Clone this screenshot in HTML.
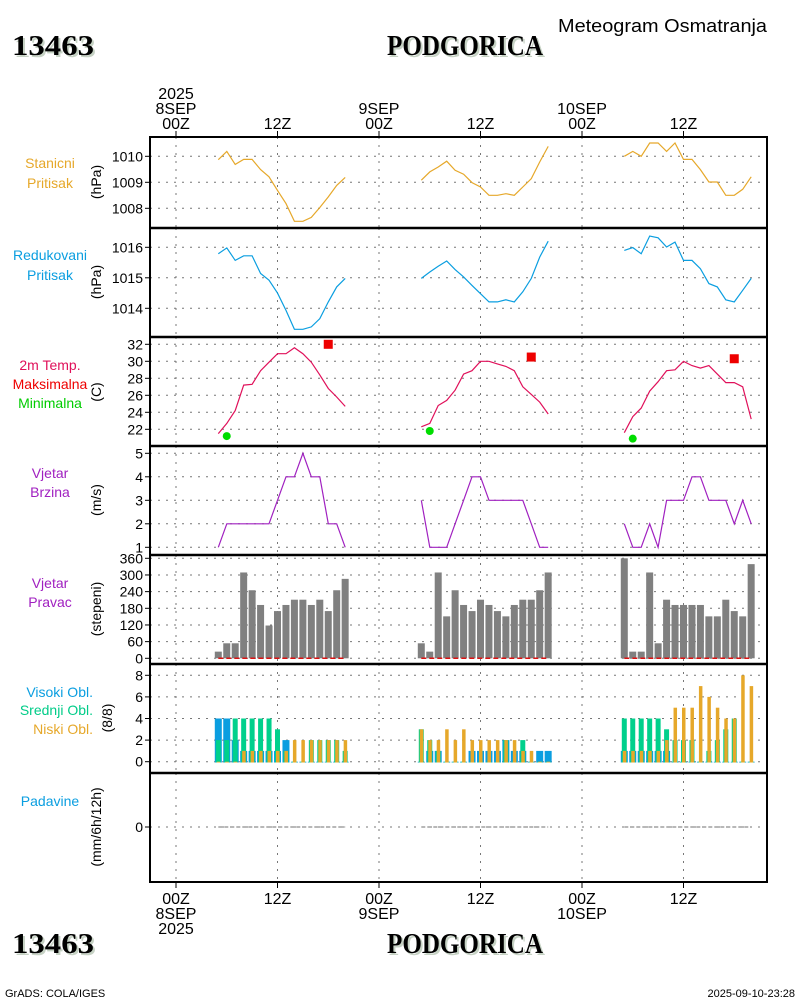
<!DOCTYPE html>
<html><head><meta charset="utf-8">
<style>
html,body{margin:0;padding:0;background:#fff;}
svg{display:block;font-family:"Liberation Sans",sans-serif;}
</style></head>
<body>
<svg id="chart" width="800" height="1000" viewBox="0 0 800 1000">
 <rect x="0" y="0" width="800" height="1000" fill="#fff"/>
 <g font-family="Liberation Serif, serif" font-weight="bold" font-size="29">
  <text x="14" y="57" fill="#c6d2c4" textLength="82" lengthAdjust="spacingAndGlyphs">13463</text><text x="12" y="55" fill="#000" textLength="82" lengthAdjust="spacingAndGlyphs">13463</text>
  <text x="389" y="57" fill="#c6d2c4" textLength="156" lengthAdjust="spacingAndGlyphs">PODGORICA</text><text x="387" y="55" fill="#000" textLength="156" lengthAdjust="spacingAndGlyphs">PODGORICA</text>
  <text x="14" y="955" fill="#c6d2c4" textLength="82" lengthAdjust="spacingAndGlyphs">13463</text><text x="12" y="953" fill="#000" textLength="82" lengthAdjust="spacingAndGlyphs">13463</text>
  <text x="389" y="955" fill="#c6d2c4" textLength="156" lengthAdjust="spacingAndGlyphs">PODGORICA</text><text x="387" y="953" fill="#000" textLength="156" lengthAdjust="spacingAndGlyphs">PODGORICA</text>
 </g>
 <text x="558" y="32" font-size="18" fill="#000" textLength="209" lengthAdjust="spacingAndGlyphs">Meteogram Osmatranja</text>
 <text x="5" y="997" font-size="11" fill="#000">GrADS: COLA/IGES</text>
 <text x="795" y="997" font-size="11" fill="#000" text-anchor="end">2025-09-10-23:28</text>
 <g id="grid"></g>
 <g id="marks"></g>
 <g id="frame"></g>
 <g id="labels"></g>
</svg>
<script>
// ---- data ----
const hours = [5,6,7,8,9,10,11,12,13,14,15,16,17,18,19,20];
const days = [0,1,2];
const stationP = [
 [1009.87,1010.19,1009.69,1009.88,1009.88,1009.49,1009.21,1008.69,1008.18,1007.5,1007.5,1007.65,1008.03,1008.44,1008.88,1009.19],
 [1009.08,1009.4,1009.59,1009.81,1009.46,1009.31,1008.99,1008.82,1008.5,1008.5,1008.56,1008.5,1008.82,1009.14,1009.78,1010.38],
 [1010.0,1010.19,1010.0,1010.51,1010.51,1010.19,1010.51,1009.88,1009.88,1009.49,1009.01,1009.01,1008.5,1008.5,1008.73,1009.21]];
const reducedP = [
 [1015.79,1015.98,1015.57,1015.72,1015.72,1015.14,1014.92,1014.5,1013.93,1013.31,1013.31,1013.39,1013.66,1014.21,1014.7,1014.98],
 [1014.98,1015.19,1015.38,1015.55,1015.27,1015.03,1014.75,1014.48,1014.21,1014.21,1014.28,1014.21,1014.54,1014.98,1015.68,1016.2],
 [1015.9,1015.99,1015.79,1016.37,1016.31,1016.01,1016.17,1015.57,1015.57,1015.3,1014.81,1014.7,1014.28,1014.21,1014.59,1014.98]];
const temp = [
 [21.5,22.7,24.2,27.2,27.3,28.9,29.9,30.9,30.9,31.6,30.9,29.9,28.4,26.8,25.8,24.7],
 [22.3,22.7,24.8,25.4,26.6,28.5,28.9,30.0,30.0,29.7,29.4,28.9,27.0,26.1,25.2,23.8],
 [21.6,23.5,24.5,26.5,27.6,28.9,29.0,30.0,29.5,29.2,29.5,28.5,27.5,27.5,27.0,23.2]];
const tMax = [32.0,30.5,30.3];
const tMaxHour = [18,18,18];
const tMin = [21.2,21.8,20.9];
const tMinHour = [6,6,6];
const windSpeed = [
 [1,2,2,2,2,2,2,3,4,4,5,4,4,2,2,1],
 [3,1,1,1,2,3,4,4,3,3,3,3,3,2,1,1],
 [2,1,1,2,1,3,3,3,4,4,3,3,3,2,3,2]];
const windDir = [
 [24,54,54,309,245,192,118,170,192,211,211,192,211,170,245,286],
 [54,24,309,151,245,192,170,211,192,170,151,192,211,211,245,309],
 [360,24,24,309,54,211,192,192,192,192,151,151,211,170,151,339]];
const cloudHigh = [
 [4,4,2,1,1,1,1,1,2,0,0,0,0,0,0,0],
 [0,1,1,0,0,0,1,1,1,1,2,1,1,0,1,1],
 [1,1,1,1,1,1,0,0,0,0,0,0,0,0,0,0]];
const cloudMid = [
 [2,2,4,4,4,4,4,3,1,0,0,2,2,2,2,1],
 [3,2,1,0,0,0,0,0,0,0,2,0,2,0,0,0],
 [4,4,4,4,4,3,2,2,2,0,1,2,3,4,0,0]];
const cloudLow = [
 [0,0,0,1,1,1,1,1,1,2,2,2,2,2,2,2],
 [3,2,2,3,2,3,2,2,2,2,2,2,1,1,0,0],
 [1,1,1,1,1,2,5,5,5,7,6,5,4,4,8,7]];
const precip = [
 [0,0,0,0,0,0,0,0,0,0,0,0,0,0,0,0],
 [0,0,0,0,0,0,0,0,0,0,0,0,0,0,0,0],
 [0,0,0,0,0,0,0,0,0,0,0,0,0,0,0,0]];
const stationTicks = [1008,1009,1010];
const reducedTicks = [1014,1015,1016];
const tempTicks = [22,24,26,28,30,32];
const speedTicks = [1,2,3,4,5];
const dirTicks = [0,60,120,180,240,300,360];
const cloudTicks = [0,2,4,6,8];
const precipTicks = [0];
const timeTicks = [0,12,24,36,48,60];

// ---- axes ----
const NS = 'http://www.w3.org/2000/svg';
const X0 = 176, PXH = 101.5/12;
const xT = (d,h) => X0 + (d*24+h)*PXH;
const yStation = v => 156.3 + (1010 - v)*26;
const yReduced = v => 247.3 + (1016 - v)*30.5;
const yTemp = v => 429.3 - (v - 22)*8.5;
const ySpeed = v => 547.3 - (v - 1)*23.5;
const yDir = v => 658.3 - v*100/360;
const yCloud = v => 761.7 - v*10.8;
const yPrecip = v => 827 - v*20;

function mk(tag, attrs, parent){
  const e = document.createElementNS(NS, tag);
  for (const k in attrs) e.setAttribute(k, attrs[k]);
  parent.appendChild(e); return e;
}
const grid = document.getElementById('grid');
const marks = document.getElementById('marks');
const frame = document.getElementById('frame');
const labels = document.getElementById('labels');
const L = 150, R = 767;
const panels = [
 {top:137,bot:228,ticks:stationTicks,f:yStation,name:'station-pressure'},
 {top:228,bot:337,ticks:reducedTicks,f:yReduced,name:'reduced-pressure'},
 {top:337,bot:446,ticks:tempTicks,f:yTemp,name:'temperature'},
 {top:446,bot:555,ticks:speedTicks,f:ySpeed,name:'wind-speed'},
 {top:555,bot:664,ticks:dirTicks,f:yDir,name:'wind-direction'},
 {top:664,bot:773,ticks:cloudTicks,f:yCloud,name:'cloud-cover'},
 {top:773,bot:882,ticks:precipTicks,f:yPrecip,name:'precipitation'}];
panels.forEach(p=>{
  p.ticks.forEach(t=>{
    const y = p.f(t);
    const gl = mk('line',{x1:L,x2:R,y1:y,y2:y,stroke:'#777','stroke-width':1,'stroke-dasharray':'2,6'},grid);
    
    
    mk('line',{x1:L-5,x2:L,y1:y,y2:y,stroke:'#000'},frame);
    const tx = mk('text',{x:L-7,y:y+5,'font-size':14,'text-anchor':'end',fill:'#000'},labels);
    tx.textContent = t;
    
    
  });
  timeTicks.forEach(h=>{
    const x = X0 + h*PXH;
    mk('line',{x1:x,x2:x,y1:p.top,y2:p.bot,stroke:'#777','stroke-dasharray':'2,6'},grid);
  });
});
const fr = mk('rect',{x:L,y:137,width:R-L,height:882-137,fill:'none',stroke:'#000','stroke-width':2},frame);


[228,337,446,555,664,773].forEach(y=>mk('line',{x1:L,x2:R,y1:y,y2:y,stroke:'#000','stroke-width':2.5},frame));
timeTicks.forEach(h=>{
  const x = X0 + h*PXH;
  mk('line',{x1:x,x2:x,y1:131,y2:137,stroke:'#000'},frame);
  mk('line',{x1:x,x2:x,y1:882,y2:888,stroke:'#000'},frame);
});
const topLab = [['2025','8SEP','00Z'],['12Z'],['9SEP','00Z'],['12Z'],['10SEP','00Z'],['12Z']];
const botLab = [['00Z','8SEP','2025'],['12Z'],['00Z','9SEP'],['12Z'],['00Z','10SEP'],['12Z']];
timeTicks.forEach((h,i)=>{
  const x = X0 + h*PXH;
  const tl = topLab[i];
  tl.forEach((s,j)=>{
    const t = mk('text',{x:x,y:129-(tl.length-1-j)*15,'font-size':16,'text-anchor':'middle',fill:'#000'},labels);
    t.textContent = s;
    
    
  });
  botLab[i].forEach((s,j)=>{
    const t = mk('text',{x:x,y:904+j*15,'font-size':16,'text-anchor':'middle',fill:'#000'},labels);
    t.textContent = s;
    
    
  });
});
const leftLabels = [
 {y:[168,188],t:['Stanicni','Pritisak'],c:['#e6a82a','#e6a82a'],ax:'(hPa)',ay:182},
 {y:[260,280],t:['Redukovani','Pritisak'],c:['#0a9ee0','#0a9ee0'],ax:'(hPa)',ay:282},
 {y:[370,389,408],t:['2m Temp.','Maksimalna','Minimalna'],c:['#e0105a','#ee0000','#00cc00'],ax:'(C)',ay:392},
 {y:[478,497],t:['Vjetar','Brzina'],c:['#a020c0','#a020c0'],ax:'(m/s)',ay:500},
 {y:[588,607],t:['Vjetar','Pravac'],c:['#a020c0','#a020c0'],ax:'(stepeni)',ay:609},
 {y:[697,715,734],t:['Visoki Obl.','Srednji Obl.','Niski Obl.'],c:['#0a9ee0','#00cc88','#e6a82a'],ax:'(8/8)',ay:718,right:true},
 {y:[806],t:['Padavine'],c:['#0a9ee0'],ax:'(mm/6h/12h)',ay:827}];
leftLabels.forEach(l=>{
  l.t.forEach((s,j)=>{
    const t = mk('text',{x:l.right?93:50,y:l.y[j],'font-size':14,'text-anchor':l.right?'end':'middle',fill:l.c[j]},labels);
    t.textContent = s;
    
    
  });
  const a = mk('text',{x:0,y:0,'font-size':14,'text-anchor':'middle',fill:'#000',transform:`translate(${l.right?112:101},${l.ay}) rotate(-90)`},labels);
  a.textContent = l.ax;
  
  
});

function line(arr, f, color, name){
  days.forEach(d=>{
    const pts = hours.map((h,i)=>xT(d,h).toFixed(1)+','+f(arr[d][i]).toFixed(1)).join(' ');
    const pl = mk('polyline',{points:pts,fill:'none',stroke:color,'stroke-width':1.2},marks);
    
    
  });
}
line(stationP, yStation, '#e6a82a', 'station-pressure-line');
line(reducedP, yReduced, '#0a9ee0', 'reduced-pressure-line');
line(temp, yTemp, '#e0105a', 'temperature-line');
line(windSpeed, ySpeed, '#a020c0', 'wind-speed-line');
days.forEach(d=>{
  const mx = mk('rect',{x:xT(d,tMaxHour[d])-4.5,y:yTemp(tMax[d])-4.5,width:9,height:9,fill:'#ee0000'},marks);
  
  
  const mn = mk('circle',{cx:xT(d,tMinHour[d]),cy:yTemp(tMin[d]),r:4,fill:'#00dd00'},marks);
  
  
  hours.forEach((h,i)=>{
    const x = xT(d,h), y = yDir(windDir[d][i]);
    const b = mk('rect',{x:x-3.5,y:y,width:7,height:yDir(0)-y,fill:'#808080'},marks);
    
    
  });
  const rl = mk('line',{x1:xT(d,hours[0]),x2:xT(d,hours[15]),y1:yDir(0),y2:yDir(0),stroke:'#dd1111','stroke-width':1.5,'stroke-dasharray':'5,3'},marks);
  
  
  hours.forEach((h,i)=>{
    const x = xT(d,h), y0 = yCloud(0);
    const hb = mk('rect',{x:x-3.5,y:yCloud(cloudHigh[d][i]),width:7,height:y0-yCloud(cloudHigh[d][i])+0.8,fill:'#0a9ee0'},marks);
    
    
    const mb = mk('rect',{x:x-2.5,y:yCloud(cloudMid[d][i]),width:5,height:y0-yCloud(cloudMid[d][i])+0.8,fill:'#00d08c'},marks);
    
    
    const lb = mk('rect',{x:x-1.5,y:yCloud(cloudLow[d][i]),width:3.5,height:y0-yCloud(cloudLow[d][i])+0.8,fill:'#e6a82a'},marks);
    
    
  });
  const pts = hours.map((h,i)=>xT(d,h).toFixed(1)+','+yPrecip(precip[d][i]).toFixed(1)).join(' ');
  const pl = mk('polyline',{points:pts,fill:'none',stroke:'#707070','stroke-width':1,'stroke-dasharray':'4,2'},marks);
  
  
});
</script>
</body></html>
